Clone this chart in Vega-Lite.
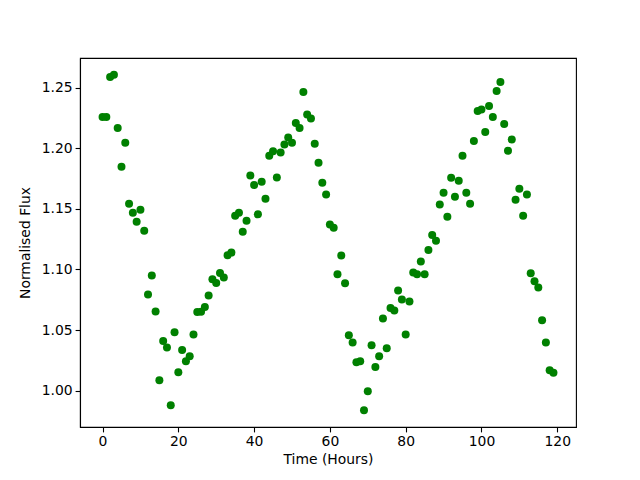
{
  "$schema": "https://vega.github.io/schema/vega-lite/v6.json",
  "width": 496,
  "height": 369,
  "autosize": {"type": "none"},
  "padding": {"left": 80, "top": 58, "right": 64, "bottom": 53},
  "background": "white",
  "config": {
    "view": {"stroke": "black", "strokeWidth": 1.1},
    "axis": {
      "grid": false,
      "domainColor": "black",
      "domainWidth": 1.1,
      "tickColor": "black",
      "tickWidth": 1.1,
      "tickSize": 4.9,
      "labelFont": "DejaVu Sans",
      "labelFontSize": 13.9,
      "labelColor": "black",
      "labelPadding": 3,
      "titleFont": "DejaVu Sans",
      "titleFontSize": 13.9,
      "titleFontWeight": "normal",
      "titleColor": "black"
    }
  },
  "data": {
    "values": [
      {"t": 0, "flux": 1.2259}, {"t": 1, "flux": 1.2259}, {"t": 2, "flux": 1.2588}, {"t": 3, "flux": 1.2607},
      {"t": 4, "flux": 1.2168}, {"t": 5, "flux": 1.1847}, {"t": 6, "flux": 1.2045}, {"t": 7, "flux": 1.1543},
      {"t": 8, "flux": 1.1469}, {"t": 9, "flux": 1.1394}, {"t": 10, "flux": 1.1493}, {"t": 11, "flux": 1.1320},
      {"t": 12, "flux": 1.0794}, {"t": 13, "flux": 1.0950}, {"t": 14, "flux": 1.0654}, {"t": 15, "flux": 1.0086},
      {"t": 16, "flux": 1.0409}, {"t": 17, "flux": 1.0357}, {"t": 18, "flux": 0.9880}, {"t": 19, "flux": 1.0481},
      {"t": 20, "flux": 1.0151}, {"t": 21, "flux": 1.0335}, {"t": 22, "flux": 1.0242}, {"t": 23, "flux": 1.0283},
      {"t": 24, "flux": 1.0464}, {"t": 25, "flux": 1.0648}, {"t": 26, "flux": 1.0652}, {"t": 27, "flux": 1.0691},
      {"t": 28, "flux": 1.0785}, {"t": 29, "flux": 1.0919}, {"t": 30, "flux": 1.0889}, {"t": 31, "flux": 1.0971},
      {"t": 32, "flux": 1.0933}, {"t": 33, "flux": 1.1117}, {"t": 34, "flux": 1.1139}, {"t": 35, "flux": 1.1444},
      {"t": 36, "flux": 1.1469}, {"t": 37, "flux": 1.1312}, {"t": 38, "flux": 1.1403}, {"t": 39, "flux": 1.1776},
      {"t": 40, "flux": 1.1696}, {"t": 41, "flux": 1.1455}, {"t": 42, "flux": 1.1724}, {"t": 43, "flux": 1.1584},
      {"t": 44, "flux": 1.1938}, {"t": 45, "flux": 1.1976}, {"t": 46, "flux": 1.1759}, {"t": 47, "flux": 1.1965},
      {"t": 48, "flux": 1.2031}, {"t": 49, "flux": 1.2088}, {"t": 50, "flux": 1.2045}, {"t": 51, "flux": 1.2209},
      {"t": 52, "flux": 1.2168}, {"t": 53, "flux": 1.2465}, {"t": 54, "flux": 1.2278}, {"t": 55, "flux": 1.2245},
      {"t": 56, "flux": 1.2037}, {"t": 57, "flux": 1.1880}, {"t": 58, "flux": 1.1715}, {"t": 59, "flux": 1.1619},
      {"t": 60, "flux": 1.1372}, {"t": 61, "flux": 1.1345}, {"t": 62, "flux": 1.0961}, {"t": 63, "flux": 1.1115},
      {"t": 64, "flux": 1.0887}, {"t": 65, "flux": 1.0458}, {"t": 66, "flux": 1.0398}, {"t": 67, "flux": 1.0234},
      {"t": 68, "flux": 1.0242}, {"t": 69, "flux": 0.9839}, {"t": 70, "flux": 0.9995}, {"t": 71, "flux": 1.0374},
      {"t": 72, "flux": 1.0195}, {"t": 73, "flux": 1.0283}, {"t": 74, "flux": 1.0596}, {"t": 75, "flux": 1.0349},
      {"t": 76, "flux": 1.0681}, {"t": 77, "flux": 1.0662}, {"t": 78, "flux": 1.0826}, {"t": 79, "flux": 1.0752},
      {"t": 80, "flux": 1.0464}, {"t": 81, "flux": 1.0736}, {"t": 82, "flux": 1.0975}, {"t": 83, "flux": 1.0961},
      {"t": 84, "flux": 1.1065}, {"t": 85, "flux": 1.0961}, {"t": 86, "flux": 1.1161}, {"t": 87, "flux": 1.1284},
      {"t": 88, "flux": 1.1236}, {"t": 89, "flux": 1.1537}, {"t": 90, "flux": 1.1633}, {"t": 91, "flux": 1.1436},
      {"t": 92, "flux": 1.1757}, {"t": 93, "flux": 1.1601}, {"t": 94, "flux": 1.1732}, {"t": 95, "flux": 1.1938},
      {"t": 96, "flux": 1.1633}, {"t": 97, "flux": 1.1543}, {"t": 98, "flux": 1.2061}, {"t": 99, "flux": 1.2308},
      {"t": 100, "flux": 1.2321}, {"t": 101, "flux": 1.2135}, {"t": 102, "flux": 1.2349}, {"t": 103, "flux": 1.2259},
      {"t": 104, "flux": 1.2473}, {"t": 105, "flux": 1.2547}, {"t": 106, "flux": 1.2201}, {"t": 107, "flux": 1.1979},
      {"t": 108, "flux": 1.2072}, {"t": 109, "flux": 1.1576}, {"t": 110, "flux": 1.1666}, {"t": 111, "flux": 1.1444},
      {"t": 112, "flux": 1.1619}, {"t": 113, "flux": 1.0969}, {"t": 114, "flux": 1.0903}, {"t": 115, "flux": 1.0851},
      {"t": 116, "flux": 1.0580}, {"t": 117, "flux": 1.0398}, {"t": 118, "flux": 1.0168}, {"t": 119, "flux": 1.0148}
    ]
  },
  "mark": {"type": "point", "shape": "circle", "filled": true, "color": "#008000", "opacity": 1, "size": 64},
  "encoding": {
    "x": {
      "field": "t",
      "type": "quantitative",
      "title": "Time (Hours)",
      "scale": {"domain": [-5.95, 124.95], "nice": false, "zero": false},
      "axis": {"values": [0, 20, 40, 60, 80, 100, 120], "titlePadding": 4}
    },
    "y": {
      "field": "flux",
      "type": "quantitative",
      "title": "Normalised Flux",
      "scale": {"domain": [0.97, 1.2745], "nice": false, "zero": false},
      "axis": {"values": [1.0, 1.05, 1.1, 1.15, 1.2, 1.25], "format": ".2f", "titlePadding": 9}
    }
  }
}
